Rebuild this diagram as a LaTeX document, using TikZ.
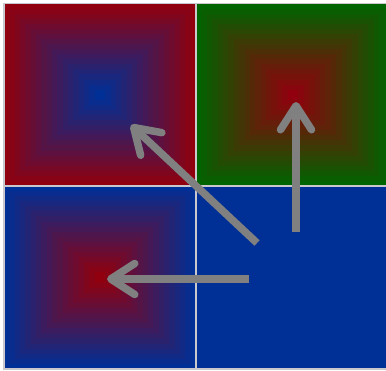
\documentclass[tikz,border=0pt]{standalone}
\usetikzlibrary{arrows.meta}
\definecolor{cellred}{RGB}{145,0,14}
\definecolor{cellblue}{RGB}{0,48,150}
\definecolor{cellgreen}{RGB}{0,100,0}
\tikzset{
  gridline/.style={draw={rgb,255:red,200;green,200;blue,205}, line width=1.5pt},
  movearrow/.style={draw=gray, line width=7.5pt, -{Straight Barb[round, length=24pt, width=31pt]}}
}
% nested rectangles from outer colour (#5) to inner colour (#6)
\newcommand{\shadecell}[6]{%
  \foreach \k in {0,...,17} {
    \pgfmathsetmacro{\cellfrac}{\k/18}
    \pgfmathsetmacro{\cellmix}{100*\k/17}
    \fill[#6!\cellmix!#5] ({#1+(#3-#1)*\cellfrac/2},{#2+(#4-#2)*\cellfrac/2}) rectangle ({#3-(#3-#1)*\cellfrac/2},{#4-(#4-#2)*\cellfrac/2});
  }}
\begin{document}
\begin{tikzpicture}[x=1pt, y=1pt]
  \useasboundingbox (0,0) rectangle (386,371);
  \clip (0,0) rectangle (386,371);
  % the four cells
  \shadecell{4}{185}{196}{367.5}{cellred}{cellblue}
  \shadecell{196}{185}{390}{367.5}{cellgreen}{cellred}
  \shadecell{4}{2}{196}{185}{cellblue}{cellred}
  \fill[cellblue] (196,2) rectangle (390,185);
  \draw[gridline] (4,2) rectangle (390,367.5);
  \draw[gridline] (196,2) -- (196,367.5);
  \draw[gridline] (4,185) -- (390,185);
  % arrows
  \coordinate (diagStart) at (257,128);
  \coordinate (diagEnd) at (131,246);
  \coordinate (upStart) at (296,139);
  \coordinate (upEnd) at (296,269);
  \coordinate (leftStart) at (249,92);
  \coordinate (leftEnd) at (107,92);
  \draw[movearrow] (diagStart) -- (diagEnd);
  \draw[movearrow] (upStart) -- (upEnd);
  \draw[movearrow] (leftStart) -- (leftEnd);
\end{tikzpicture}
\end{document}
